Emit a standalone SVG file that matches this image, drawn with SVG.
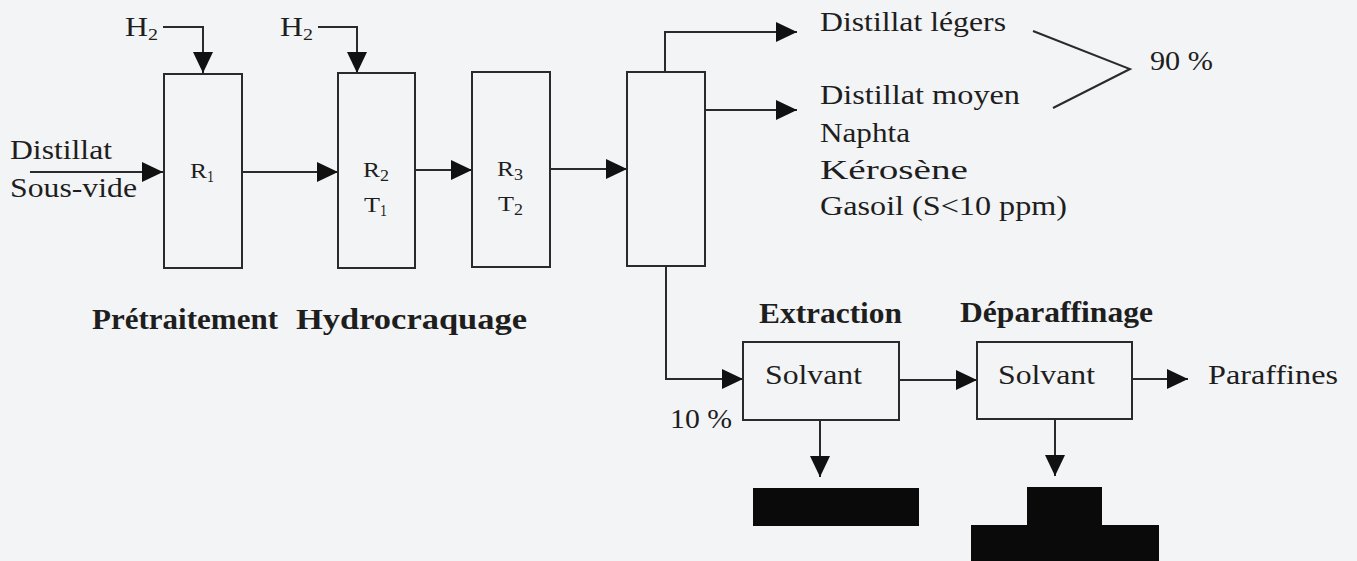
<svg xmlns="http://www.w3.org/2000/svg" width="1357" height="561" viewBox="0 0 1357 561">
<style>
.t{font-family:"Liberation Serif","Times New Roman",serif;font-size:27px;fill:#1e1e1e}
.b{font-weight:bold;font-size:29px}
.s{font-size:17px}
.r{font-size:22px}
.box{fill:none;stroke:#2a2a2a;stroke-width:2}
.ln{fill:none;stroke:#2a2a2a;stroke-width:2}
.blk{fill:#0a0a0a}
</style>
<defs>
<marker id="ah" markerUnits="userSpaceOnUse" markerWidth="24" markerHeight="22" refX="21" refY="10" orient="auto">
<path d="M0,0 L21,10 L0,20 z" fill="#111"/>
</marker>
</defs>
<rect width="1357" height="561" fill="#f3f4f6"/>

<g id="connectors">
<polyline class="ln" points="163,27 203,27 203,73" marker-end="url(#ah)"/>
<polyline class="ln" points="318,27 357,27 357,73" marker-end="url(#ah)"/>
<line class="ln" x1="30" y1="172" x2="163" y2="172" marker-end="url(#ah)"/>
<line class="ln" x1="242" y1="172" x2="338" y2="172" marker-end="url(#ah)"/>
<line class="ln" x1="415" y1="170" x2="472" y2="170" marker-end="url(#ah)"/>
<line class="ln" x1="550" y1="169" x2="627" y2="169" marker-end="url(#ah)"/>
<polyline class="ln" points="665,72 665,32 797,32" marker-end="url(#ah)"/>
<line class="ln" x1="705" y1="110" x2="797" y2="110" marker-end="url(#ah)"/>
<polyline class="ln" points="666,266 666,379 743,379" marker-end="url(#ah)"/>
<line class="ln" x1="899" y1="380" x2="977" y2="380" marker-end="url(#ah)"/>
<line class="ln" x1="1132" y1="379" x2="1188" y2="379" marker-end="url(#ah)"/>
<line class="ln" x1="820" y1="420" x2="820" y2="477" marker-end="url(#ah)"/>
<line class="ln" x1="1055" y1="419" x2="1055" y2="476" marker-end="url(#ah)"/>
<polyline class="ln" points="1033,31 1130,69 1053,108"/>
</g>

<g id="input">
<text class="t" x="10" y="159" textLength="102" lengthAdjust="spacingAndGlyphs">Distillat</text>
<text class="t" x="10" y="197" textLength="127" lengthAdjust="spacingAndGlyphs">Sous-vide</text>
</g>

<g id="h2-a">
<text class="t" x="125" y="36" textLength="23" lengthAdjust="spacingAndGlyphs">H</text>
<text class="t s" x="148" y="40" textLength="10" lengthAdjust="spacingAndGlyphs">2</text>
</g>
<g id="h2-b">
<text class="t" x="280" y="36" textLength="23" lengthAdjust="spacingAndGlyphs">H</text>
<text class="t s" x="303" y="40" textLength="10" lengthAdjust="spacingAndGlyphs">2</text>
</g>

<g id="r1">
<rect class="box" x="164" y="74" width="78" height="194"/>
<text class="t r" x="190" y="178" textLength="17" lengthAdjust="spacingAndGlyphs">R</text>
<text class="t s" x="207" y="182" textLength="7" lengthAdjust="spacingAndGlyphs">1</text>
</g>

<g id="r2">
<rect class="box" x="338" y="73" width="77" height="195"/>
<text class="t r" x="363" y="177" textLength="17" lengthAdjust="spacingAndGlyphs">R</text>
<text class="t s" x="380" y="181" textLength="9" lengthAdjust="spacingAndGlyphs">2</text>
<text class="t r" x="364" y="212" textLength="16" lengthAdjust="spacingAndGlyphs">T</text>
<text class="t s" x="380" y="216" textLength="7" lengthAdjust="spacingAndGlyphs">1</text>
</g>

<g id="r3">
<rect class="box" x="472" y="72" width="78" height="195"/>
<text class="t r" x="497" y="176" textLength="17" lengthAdjust="spacingAndGlyphs">R</text>
<text class="t s" x="514" y="180" textLength="9" lengthAdjust="spacingAndGlyphs">3</text>
<text class="t r" x="498" y="211" textLength="16" lengthAdjust="spacingAndGlyphs">T</text>
<text class="t s" x="514" y="215" textLength="9" lengthAdjust="spacingAndGlyphs">2</text>
</g>

<g id="column">
<rect class="box" x="627" y="72" width="78" height="194"/>
</g>

<g id="products">
<text class="t" x="820" y="31" textLength="186" lengthAdjust="spacingAndGlyphs">Distillat légers</text>
<text class="t" x="820" y="104" textLength="200" lengthAdjust="spacingAndGlyphs">Distillat moyen</text>
<text class="t" x="820" y="142" textLength="90" lengthAdjust="spacingAndGlyphs">Naphta</text>
<text class="t" x="820" y="179" textLength="148" lengthAdjust="spacingAndGlyphs">Kérosène</text>
<text class="t" x="820" y="215" textLength="247" lengthAdjust="spacingAndGlyphs">Gasoil (S&lt;10 ppm)</text>
<text class="t" x="1150" y="70" textLength="63" lengthAdjust="spacingAndGlyphs">90 %</text>
</g>

<g id="labels">
<text class="t b" x="92" y="329" textLength="186" lengthAdjust="spacingAndGlyphs">Prétraitement</text>
<text class="t b" x="296" y="329" textLength="231" lengthAdjust="spacingAndGlyphs">Hydrocraquage</text>
</g>

<g id="extraction">
<text class="t b" x="759" y="323" textLength="143" lengthAdjust="spacingAndGlyphs">Extraction</text>
<rect class="box" x="743" y="342" width="156" height="78"/>
<text class="t" x="765" y="384" textLength="97" lengthAdjust="spacingAndGlyphs">Solvant</text>
<text class="t" x="670" y="428" textLength="62" lengthAdjust="spacingAndGlyphs">10 %</text>
</g>

<g id="deparaffinage">
<text class="t b" x="960" y="322" textLength="193" lengthAdjust="spacingAndGlyphs">Déparaffinage</text>
<rect class="box" x="977" y="342" width="155" height="77"/>
<text class="t" x="998" y="384" textLength="97" lengthAdjust="spacingAndGlyphs">Solvant</text>
</g>

<g id="paraffines">
<text class="t" x="1208" y="384" textLength="130" lengthAdjust="spacingAndGlyphs">Paraffines</text>
</g>

<g id="output-1">
<rect class="blk" x="753" y="488" width="166" height="38"/>
</g>
<g id="output-2">
<path class="blk" d="M1027,487 H1102 V525 H1159 V561 H971 V525 H1027 z"/>
</g>
</svg>
